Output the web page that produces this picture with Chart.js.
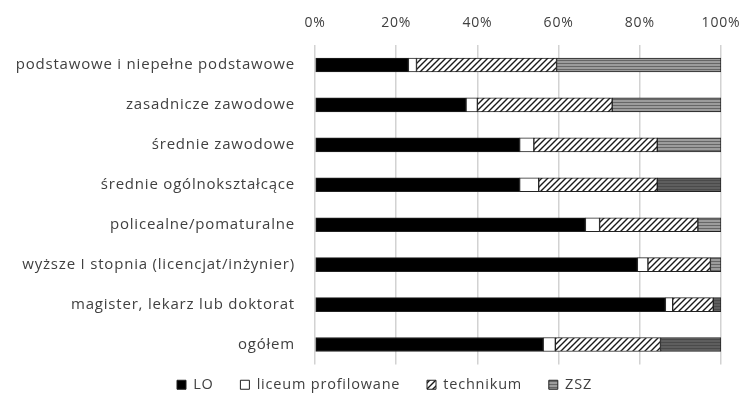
<!DOCTYPE html>
<html>
<head>
<meta charset="utf-8">
<script src="https://cdn.jsdelivr.net/npm/chart.js@4.4.1/dist/chart.umd.min.js"></script>
<style>
  html, body { margin: 0; padding: 0; background: #fff; }
  #wrap { width: 742px; height: 411px; }
</style>
</head>
<body>
<div id="wrap"><canvas id="chart"></canvas></div>
<script>
// Categories (education level of parents) and shares by school type, in %
const categories = [
  "podstawowe i niepełne podstawowe",
  "zasadnicze zawodowe",
  "średnie zawodowe",
  "średnie ogólnokształcące",
  "policealne/pomaturalne",
  "wyższe I stopnia (licencjat/inżynier)",
  "magister, lekarz lub doktorat",
  "ogółem"
];
const seriesNames = ["LO", "liceum profilowane", "technikum", "ZSZ"];
const loValues = [23.0, 37.2, 50.4, 50.4, 66.6, 79.4, 86.3, 56.2];
const profilValues = [2.0, 2.8, 3.5, 4.7, 3.5, 2.6, 1.8, 3.0];
const technikumValues = [34.5, 33.2, 30.4, 29.2, 24.2, 15.4, 10.0, 25.9];
const zszValues = [40.5, 26.8, 15.7, 15.7, 5.7, 2.6, 1.9, 14.9];
const tickValues = [0, 20, 40, 60, 80, 100];

// Hatch patterns
function diagPattern() {
  const c = document.createElement("canvas");
  c.width = 6; c.height = 6;
  const g = c.getContext("2d");
  g.fillStyle = "#ffffff";
  g.fillRect(0, 0, 6, 6);
  g.strokeStyle = "#1a1a1a";
  g.lineWidth = 1.4;
  g.beginPath();
  g.moveTo(0, 6); g.lineTo(6, 0);
  g.moveTo(-1, 1); g.lineTo(1, -1);
  g.moveTo(5, 7); g.lineTo(7, 5);
  g.stroke();
  return g.createPattern(c, "repeat");
}

function horizPattern(base, line) {
  const c = document.createElement("canvas");
  c.width = 4; c.height = 3;
  const g = c.getContext("2d");
  g.fillStyle = base;
  g.fillRect(0, 0, 4, 3);
  g.fillStyle = line;
  g.fillRect(0, 0, 4, 1);
  return g.createPattern(c, "repeat");
}

const textColor = "#404040";
const font = "'Open Sans', sans-serif";

const lightStripes = horizPattern("#9c9c9c", "#666666");
const darkStripes = horizPattern("#5e5e5e", "#4a4a4a");
const zszFills = [lightStripes, lightStripes, lightStripes, darkStripes,
                  lightStripes, lightStripes, darkStripes, darkStripes];

const fills = ["#000000", "#ffffff", diagPattern(), zszFills];
const allValues = [loValues, profilValues, technikumValues, zszValues];

const datasets = seriesNames.map((name, i) => ({
  label: name,
  data: allValues[i],
  backgroundColor: fills[i],
  borderColor: "#222222",
  borderWidth: 1,
  borderSkipped: false,
  barThickness: 14
}));

// wider text spacing, like the original's font
const spacing = {
  id: "spacing",
  beforeUpdate(chart) { chart.ctx.letterSpacing = "0.8px"; },
  beforeDraw(chart) { chart.ctx.letterSpacing = "0.8px"; }
};

// legend in the original sits a bit right of centre
const legendShift = {
  id: "legendShift",
  afterLayout(chart) {
    chart.legend.left += 24;
    chart.legend.right += 24;
  }
};

new Chart(document.getElementById("chart"), {
  type: "bar",
  data: { labels: categories, datasets },
  plugins: [spacing, legendShift],
  options: {
    indexAxis: "y",
    responsive: true,
    maintainAspectRatio: false,
    animation: false,
    layout: { padding: { top: 8, right: 21, bottom: 9, left: 0 } },
    plugins: {
      tooltip: { enabled: false },
      legend: {
        position: "bottom",
        labels: {
          color: textColor,
          font: { family: font, size: 14.5 },
          boxWidth: 9,
          boxHeight: 9,
          padding: 13,
          generateLabels: (chart) => {
            const items = Chart.defaults.plugins.legend.labels.generateLabels(chart);
            items[3].fillStyle = lightStripes;
            items[3].strokeStyle = "#222222";
            // extra gap between legend items
            items.forEach((it, i) => { if (i < items.length - 1) it.text = it.text + "   "; });
            return items;
          }
        }
      }
    },
    scales: {
      x: {
        position: "top",
        stacked: true,
        min: 0,
        max: 100,
        afterBuildTicks: (scale) => {
          scale.ticks = tickValues.map(v => ({ value: v }));
        },
        afterFit: (scale) => {
          scale.height = 37;
          scale.paddingLeft = 0;
          scale.paddingRight = 0;
        },
        ticks: {
          color: textColor,
          font: { family: font, size: 14 },
          padding: 14,
          callback: (v) => v + "%"
        },
        grid: { color: "#d2d2d2", lineWidth: 1.5, drawTicks: false },
        border: { display: false }
      },
      y: {
        stacked: true,
        afterFit: (scale) => { scale.width = 315; },
        ticks: {
          color: textColor,
          font: { family: font, size: 15 },
          padding: 20
        },
        grid: { display: false, drawTicks: false },
        border: { display: false }
      }
    }
  }
});
</script>
</body>
</html>
